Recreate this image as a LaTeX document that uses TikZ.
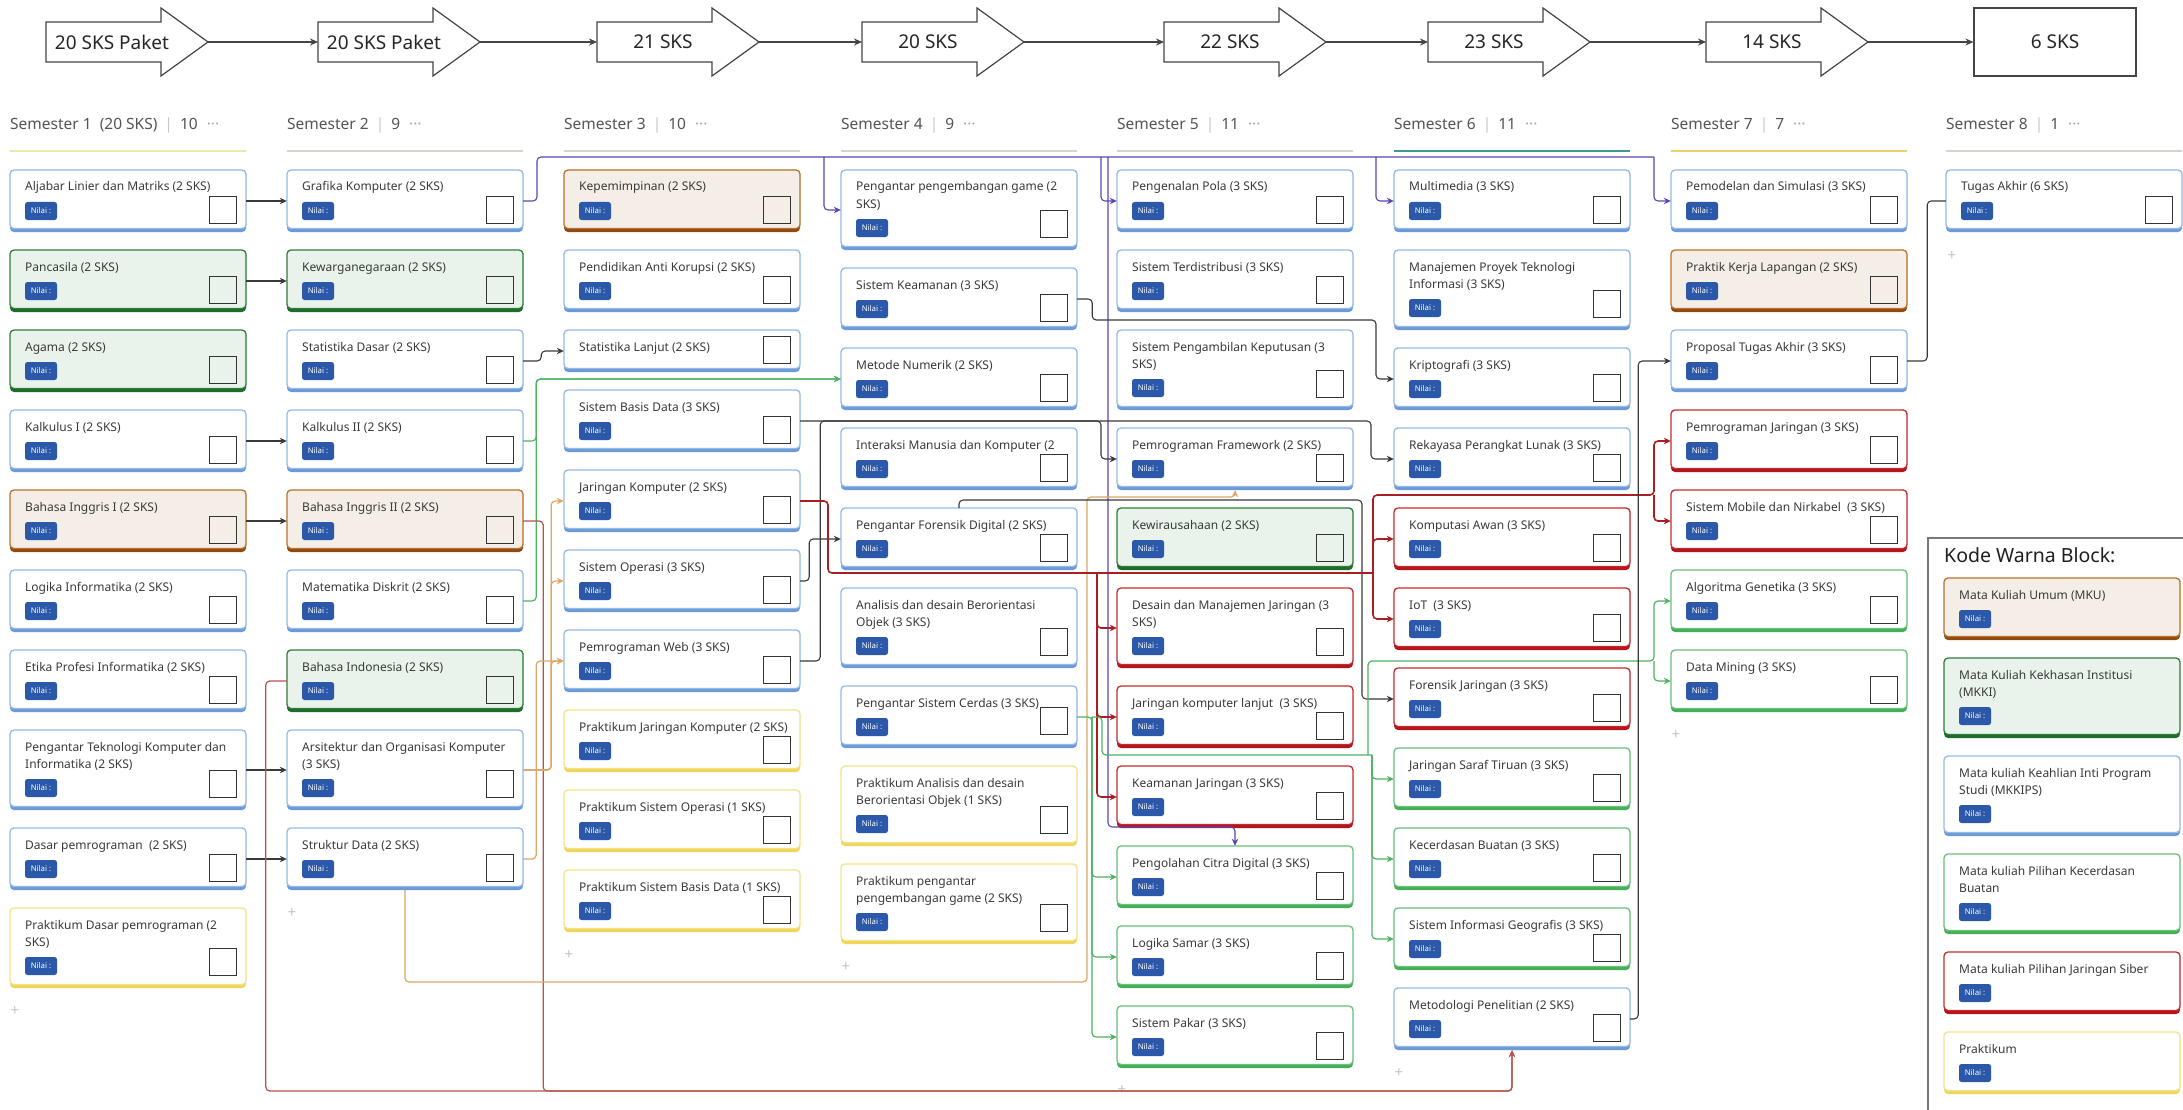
\documentclass[tikz,border=0pt]{standalone}
\usepackage{fontspec}
\setmainfont{Noto Sans}
\usetikzlibrary{arrows.meta}

\definecolor{blufill}{HTML}{FFFFFF}\definecolor{bluedge}{HTML}{95BAE8}\definecolor{blubot}{HTML}{6A9AD9}
\definecolor{kkifill}{HTML}{E9F3EB}\definecolor{kkiedge}{HTML}{2F7D3A}\definecolor{kkibot}{HTML}{1F6B2C}
\definecolor{mkufill}{HTML}{F5EEE7}\definecolor{mkuedge}{HTML}{B8732F}\definecolor{mkubot}{HTML}{8E4A12}
\definecolor{redfill}{HTML}{FFFFFF}\definecolor{rededge}{HTML}{C62A2F}\definecolor{redbot}{HTML}{B3151B}
\definecolor{aifill}{HTML}{FFFFFF}\definecolor{aiedge}{HTML}{6BC07A}\definecolor{aibot}{HTML}{45AE57}
\definecolor{prkfill}{HTML}{FFFFFF}\definecolor{prkedge}{HTML}{F2E38C}\definecolor{prkbot}{HTML}{EFD65A}
\definecolor{badgec}{HTML}{2B58A8}
\definecolor{titlec}{HTML}{3A3A3A}
\definecolor{semc}{HTML}{555555}
\definecolor{sepc}{HTML}{C8C8C8}
\definecolor{dotc}{HTML}{A8A8A8}
\definecolor{lngray}{HTML}{D5D5D0}
\definecolor{lnyel1}{HTML}{F2E7A6}
\definecolor{lnteal}{HTML}{3E9C8C}
\definecolor{lnyel2}{HTML}{E8D46A}
\definecolor{arrc}{HTML}{444444}
\definecolor{lnblack}{HTML}{3A3A3A}
\definecolor{lnpurp}{HTML}{5D45B0}
\definecolor{lngreen}{HTML}{4DB362}
\definecolor{lnred}{HTML}{A81E22}
\definecolor{lnred2}{HTML}{B4544C}
\definecolor{lntan}{HTML}{DDA765}
\definecolor{plusc}{HTML}{C4C4C4}
\definecolor{legc}{HTML}{777777}
\definecolor{sqc}{HTML}{333333}

\tikzset{
  ttl/.style={anchor=base west, inner sep=0, text=titlec, font=\fontsize{12}{14}\selectfont},
  badge/.style={fill=badgec, rounded corners=2.5pt, minimum width=32pt, minimum height=18pt, inner sep=0, text=white, font=\fontsize{7.8}{8}\selectfont\bfseries},
  sqbox/.style={draw=sqc, line width=1.0pt, minimum size=27pt, inner sep=0},
  cardframe/.style={inner sep=0, minimum width=236pt, draw=none},
  semtxt/.style={anchor=west, inner sep=0, text=semc, font=\fontsize{15.5}{18}\selectfont},
  arrowsh/.style={draw=arrc, line width=1.2pt, fill=white, line join=miter},
  arrtxt/.style={inner sep=0, text=black!85, font=\fontsize{19}{21}\selectfont},
  chain/.style={draw=arrc, line width=1.2pt, -{Stealth[length=8pt,width=7pt]}},
  plus/.style={inner sep=0, text=plusc, font=\fontsize{15}{15}\selectfont},
  tipA/.style={-{Stealth[length=7pt,width=6.5pt]}},
  cblackn/.style={draw=lnblack, line width=1.1pt, rounded corners=4pt},
  cblack/.style={cblackn, tipA},
  cpurpn/.style={draw=lnpurp, line width=1.1pt, rounded corners=4pt},
  cpurp/.style={cpurpn, tipA},
  cgreenn/.style={draw=lngreen, line width=1.2pt, rounded corners=4pt},
  cgreen/.style={cgreenn, tipA},
  credn/.style={draw=lnred, line width=1.6pt, rounded corners=4pt},
  cred/.style={credn, tipA},
  cred2/.style={draw=lnred2, line width=1.2pt, rounded corners=4pt, tipA},
  ctan/.style={draw=lntan, line width=1.2pt, rounded corners=4pt, tipA},
}

% single-line card: [square y] name x y type title
\newcommand{\cardone}[6][40]{%
  \begin{scope}[shift={(#3,#4)}]
    \fill[#5bot, rounded corners=4pt] (0,0) rectangle (236,62);
    \filldraw[fill=#5fill, draw=#5edge, line width=1.3pt, rounded corners=4pt] (0,0) rectangle (236,58.5);
    \node[ttl] (#2-t) at (15,21) {#6};
    \node[badge] (#2-b) at (31,41) {Nilai :};
    \ifnum#1>0 \node[sqbox, fill=#5fill] (#2-s) at (212.5,#1) {};\fi
  \end{scope}
  \node[cardframe, minimum height=62pt] (#2) at (#3+118,#4+31) {};
}
% two-line card
\newcommand{\cardtwo}[7][54]{%
  \begin{scope}[shift={(#3,#4)}]
    \fill[#5bot, rounded corners=4pt] (0,0) rectangle (236,80);
    \filldraw[fill=#5fill, draw=#5edge, line width=1.3pt, rounded corners=4pt] (0,0) rectangle (236,76.5);
    \node[ttl] (#2-t) at (15,21) {#6};
    \node[ttl] (#2-u) at (15,38) {#7};
    \node[badge] (#2-b) at (31,58) {Nilai :};
    \ifnum#1>0 \node[sqbox, fill=#5fill] (#2-s) at (212.5,#1) {};\fi
  \end{scope}
  \node[cardframe, minimum height=80pt] (#2) at (#3+118,#4+40) {};
}
% short card without badge
\newcommand{\cardshort}[5]{%
  \begin{scope}[shift={(#2,#3)}]
    \fill[#4bot, rounded corners=4pt] (0,0) rectangle (236,42);
    \filldraw[fill=#4fill, draw=#4edge, line width=1.3pt, rounded corners=4pt] (0,0) rectangle (236,38.5);
    \node[ttl] (#1-t) at (15,21) {#5};
    \node[sqbox, fill=#4fill] (#1-s) at (212.5,19.5) {};
  \end{scope}
  \node[cardframe, minimum height=42pt] (#1) at (#2+118,#3+21) {};
}
\newcommand{\semhead}[5]{%
  \node[semtxt] (#1) at (#2,125) {#3\hspace{7pt}\textcolor{sepc}{|}\hspace{7pt}#4\hspace{9pt}\textcolor{dotc}{···}};
  \draw[line width=2pt, #5] (#2,151) -- (#2+236,151);
}
\newcommand{\bigarrow}[3]{%
  \draw[arrowsh] (#2,22) -- (#2+115,22) -- (#2+115,8) -- (#2+162,42) -- (#2+115,76) -- (#2+115,62) -- (#2,62) -- cycle;
  \node[inner sep=0, minimum width=115pt, minimum height=40pt, anchor=west] (#1) at (#2,42) {};
  \node[arrtxt] (#1-l) at (#2+66,42) {#3};
  \coordinate (#1-tip) at (#2+162,42);
}

\begin{document}
\begin{tikzpicture}[x=1pt,y=-1pt]
\useasboundingbox (0,0) rectangle (2183,1110);
\fill[white] (0,0) rectangle (2183,1110);

% ---------- top arrows ----------
\bigarrow{a1}{46}{20 SKS Paket}
\bigarrow{a2}{318}{20 SKS Paket}
\bigarrow{a3}{597}{21 SKS}
\bigarrow{a4}{862}{20 SKS}
\bigarrow{a5}{1164}{22 SKS}
\bigarrow{a6}{1428}{23 SKS}
\bigarrow{a7}{1706}{14 SKS}
\node[draw=arrc, line width=1.2pt, fill=white, minimum width=162pt, minimum height=68pt, inner sep=0, text=black!85, font=\fontsize{19}{21}\selectfont] (a8) at (2055,42) {6 SKS};
\draw[chain] (a1-tip) -- (a2);
\draw[chain] (a2-tip) -- (a3);
\draw[chain] (a3-tip) -- (a4);
\draw[chain] (a4-tip) -- (a5);
\draw[chain] (a5-tip) -- (a6);
\draw[chain] (a6-tip) -- (a7);
\draw[chain] (a7-tip) -- (a8);

% ---------- semester headers ----------
\semhead{s1}{10}{Semester 1~ (20 SKS)}{10}{lnyel1}
\semhead{s2}{287}{Semester 2}{9}{lngray}
\semhead{s3}{564}{Semester 3}{10}{lngray}
\semhead{s4}{841}{Semester 4}{9}{lngray}
\semhead{s5}{1117}{Semester 5}{11}{lngray}
\semhead{s6}{1394}{Semester 6}{11}{lnteal}
\semhead{s7}{1671}{Semester 7}{7}{lnyel2}
\semhead{s8}{1946}{Semester 8}{1}{lngray}

% ---------- column 1 ----------
\cardone{c1a}{10}{170}{blu}{Aljabar Linier dan Matriks (2 SKS)}
\cardone{c1b}{10}{250}{kki}{Pancasila (2 SKS)}
\cardone{c1c}{10}{330}{kki}{Agama (2 SKS)}
\cardone{c1d}{10}{410}{blu}{Kalkulus I (2 SKS)}
\cardone{c1e}{10}{490}{mku}{Bahasa Inggris I (2 SKS)}
\cardone{c1f}{10}{570}{blu}{Logika Informatika (2 SKS)}
\cardone{c1g}{10}{650}{blu}{Etika Profesi Informatika (2 SKS)}
\cardtwo{c1h}{10}{730}{blu}{Pengantar Teknologi Komputer dan}{Informatika (2 SKS)}
\cardone{c1i}{10}{828}{blu}{Dasar pemrograman~ (2 SKS)}
\cardtwo{c1j}{10}{908}{prk}{Praktikum Dasar pemrograman (2}{SKS)}
\node[plus] (p1) at (15,1011) {+};

% ---------- column 2 ----------
\cardone{c2a}{287}{170}{blu}{Grafika Komputer (2 SKS)}
\cardone{c2b}{287}{250}{kki}{Kewarganegaraan (2 SKS)}
\cardone{c2c}{287}{330}{blu}{Statistika Dasar (2 SKS)}
\cardone{c2d}{287}{410}{blu}{Kalkulus II (2 SKS)}
\cardone{c2e}{287}{490}{mku}{Bahasa Inggris II (2 SKS)}
\cardone{c2f}{287}{570}{blu}{Matematika Diskrit (2 SKS)}
\cardone{c2g}{287}{650}{kki}{Bahasa Indonesia (2 SKS)}
\cardtwo{c2h}{287}{730}{blu}{Arsitektur dan Organisasi Komputer}{(3 SKS)}
\cardone{c2i}{287}{828}{blu}{Struktur Data (2 SKS)}
\node[plus] (p2) at (292,913) {+};

% ---------- column 3 ----------
\cardone{c3a}{564}{170}{mku}{Kepemimpinan (2 SKS)}
\cardone{c3b}{564}{250}{blu}{Pendidikan Anti Korupsi (2 SKS)}
\cardshort{c3c}{564}{330}{blu}{Statistika Lanjut (2 SKS)}
\cardone{c3d}{564}{390}{blu}{Sistem Basis Data (3 SKS)}
\cardone{c3e}{564}{470}{blu}{Jaringan Komputer (2 SKS)}
\cardone{c3f}{564}{550}{blu}{Sistem Operasi (3 SKS)}
\cardone{c3g}{564}{630}{blu}{Pemrograman Web (3 SKS)}
\cardone{c3h}{564}{710}{prk}{Praktikum Jaringan Komputer (2 SKS)}
\cardone{c3i}{564}{790}{prk}{Praktikum Sistem Operasi (1 SKS)}
\cardone{c3j}{564}{870}{prk}{Praktikum Sistem Basis Data (1 SKS)}
\node[plus] (p3) at (569,955) {+};

% ---------- column 4 ----------
\cardtwo{c4a}{841}{170}{blu}{Pengantar pengembangan game (2}{SKS)}
\cardone{c4b}{841}{268}{blu}{Sistem Keamanan (3 SKS)}
\cardone{c4c}{841}{348}{blu}{Metode Numerik (2 SKS)}
\cardone{c4d}{841}{428}{blu}{Interaksi Manusia dan Komputer (2}
\cardone{c4e}{841}{508}{blu}{Pengantar Forensik Digital (2 SKS)}
\cardtwo{c4f}{841}{588}{blu}{Analisis dan desain Berorientasi}{Objek (3 SKS)}
\cardone[35]{c4g}{841}{686}{blu}{Pengantar Sistem Cerdas (3 SKS)}
\cardtwo{c4h}{841}{766}{prk}{Praktikum Analisis dan desain}{Berorientasi Objek (1 SKS)}
\cardtwo{c4i}{841}{864}{prk}{Praktikum pengantar}{pengembangan game (2 SKS)}
\node[plus] (p4) at (846,967) {+};

% ---------- column 5 ----------
\cardone{c5a}{1117}{170}{blu}{Pengenalan Pola (3 SKS)}
\cardone{c5b}{1117}{250}{blu}{Sistem Terdistribusi (3 SKS)}
\cardtwo{c5c}{1117}{330}{blu}{Sistem Pengambilan Keputusan (3}{SKS)}
\cardone{c5d}{1117}{428}{blu}{Pemrograman Framework (2 SKS)}
\cardone{c5e}{1117}{508}{kki}{Kewirausahaan (2 SKS)}
\cardtwo{c5f}{1117}{588}{red}{Desain dan Manajemen Jaringan (3}{SKS)}
\cardone{c5g}{1117}{686}{red}{Jaringan komputer lanjut~ (3 SKS)}
\cardone{c5h}{1117}{766}{red}{Keamanan Jaringan (3 SKS)}
\cardone{c5i}{1117}{846}{ai}{Pengolahan Citra Digital (3 SKS)}
\cardone{c5j}{1117}{926}{ai}{Logika Samar (3 SKS)}
\cardone{c5k}{1117}{1006}{ai}{Sistem Pakar (3 SKS)}
\node[plus] (p5) at (1122,1090) {+};

% ---------- column 6 ----------
\cardone{c6a}{1394}{170}{blu}{Multimedia (3 SKS)}
\cardtwo{c6b}{1394}{250}{blu}{Manajemen Proyek Teknologi}{Informasi (3 SKS)}
\cardone{c6c}{1394}{348}{blu}{Kriptografi (3 SKS)}
\cardone{c6d}{1394}{428}{blu}{Rekayasa Perangkat Lunak (3 SKS)}
\cardone{c6e}{1394}{508}{red}{Komputasi Awan (3 SKS)}
\cardone{c6f}{1394}{588}{red}{IoT~ (3 SKS)}
\cardone{c6g}{1394}{668}{red}{Forensik Jaringan (3 SKS)}
\cardone{c6h}{1394}{748}{ai}{Jaringan Saraf Tiruan (3 SKS)}
\cardone{c6i}{1394}{828}{ai}{Kecerdasan Buatan (3 SKS)}
\cardone{c6j}{1394}{908}{ai}{Sistem Informasi Geografis (3 SKS)}
\cardone{c6k}{1394}{988}{blu}{Metodologi Penelitian (2 SKS)}
\node[plus] (p6) at (1399,1073) {+};

% ---------- column 7 ----------
\cardone{c7a}{1671}{170}{blu}{Pemodelan dan Simulasi (3 SKS)}
\cardone{c7b}{1671}{250}{mku}{Praktik Kerja Lapangan (2 SKS)}
\cardone{c7c}{1671}{330}{blu}{Proposal Tugas Akhir (3 SKS)}
\cardone{c7d}{1671}{410}{red}{Pemrograman Jaringan (3 SKS)}
\cardone{c7e}{1671}{490}{red}{Sistem Mobile dan Nirkabel~ (3 SKS)}
\cardone{c7f}{1671}{570}{ai}{Algoritma Genetika (3 SKS)}
\cardone{c7g}{1671}{650}{ai}{Data Mining (3 SKS)}
\node[plus] (p7) at (1676,735) {+};

% ---------- column 8 ----------
\cardone{c8a}{1946}{170}{blu}{Tugas Akhir (6 SKS)}
\node[plus] (p8) at (1952,256) {+};

% ---------- legend ----------
\draw[draw=legc, line width=1.6pt] (1928,1110) -- (1928,538) -- (2183,538);
\node[anchor=west, inner sep=0, text=black!88, font=\fontsize{19.5}{21}\selectfont] (legt) at (1944,555) {Kode Warna Block:};
\cardone[0]{l1}{1944}{578}{mku}{Mata Kuliah Umum (MKU)}
\cardtwo[0]{l2}{1944}{658}{kki}{Mata Kuliah Kekhasan Institusi}{(MKKI)}
\cardtwo[0]{l3}{1944}{756}{blu}{Mata kuliah Keahlian Inti Program}{Studi (MKKIPS)}
\cardtwo[0]{l4}{1944}{854}{ai}{Mata kuliah Pilihan Kecerdasan}{Buatan}
\cardone[0]{l5}{1944}{952}{red}{Mata kuliah Pilihan Jaringan Siber}
\cardone[0]{l6}{1944}{1032}{prk}{Praktikum}

% ---------- connectors ----------
\draw[cblack] (c1a) -- (c2a);
\draw[cblack] (c1b) -- (c2b);
\draw[cblack] (c1d) -- (c2d);
\draw[cblack] (c1e) -- (c2e);
\draw[cblack] (c1h) -- (c2h);
\draw[cblack] (c1i) -- (c2i);

\draw[cblack] (c2c.east) -- ++(18,0) |- (c3c.west);

% purple trunk from Grafika Komputer
\coordinate (pA) at (537,157);
\coordinate (pB) at (824,157);
\coordinate (pC) at (1101,157);
\coordinate (pF) at (1108,157);
\coordinate (pD) at (1376,157);
\coordinate (pE) at (1654,157);
\coordinate (pG) at (1108,827);
\draw[cpurpn] (c2a.east) -| (pA) -- (pE);
\draw[cpurp] (pB) |- (c4a.west);
\draw[cpurp] (pC) |- (c5a.west);
\draw[cpurp] (pD) |- (c6a.west);
\draw[cpurp] (pE) |- (c7a.west);
\draw[cpurp] (pF) -- (pG) -| (c5i.north);

% green to Metode Numerik
\draw[cgreen] (c2d.east) -- ++(13,0) |- (c4c.west);
\draw[cgreen] (c2f.east) -- ++(13,0) |- (c4c.west);

% bottom red route to Metodologi Penelitian
\coordinate (bR) at (1512,1091);
\draw[cred2] (c2e.east) -- ++(20,0) |- (bR) -- (c6k.south);
\draw[cred2] (c2g.west) -- ++(-21,0) |- (bR) -- (c6k.south);

% tan
\draw[ctan] (c2h.east) -- ++(28,0) |- (c3e.west);
\draw[ctan] (c2h.east) -- ++(28,0) |- (c3f.west);
\draw[ctan] (c2h.east) -- ++(28,0) |- (c3g.west);
\draw[ctan] (c2i.east) -- ++(13,0) |- (c3g.west);
\coordinate (tA) at (1087,982);
\coordinate (tB) at (1087,497);
\draw[ctan] (c2i.south) |- (tA) -- (tB) -| (c5d.south);

% black
\draw[cblack] (c3f.east) -- ++(9,0) |- (c4e.west);
\coordinate (sA) at (1101,421);
\coordinate (sB) at (1371,421);
\draw[cblack] (c3d.east) -- (sA) |- (c5d.west);
\draw[cblack] (sA) -- (sB) |- (c6d.west);
\draw[cblackn] (c3g.east) -- ++(20,0) |- (sA);
\coordinate (kA) at (1376,320);
\draw[cblack] (c4b.east) -- ++(15,0) |- (kA) |- (c6c.west);
\coordinate (fA) at (1362,500);
\draw[cblack] (c4e.north) |- (fA) |- (c6g.west);

% red network from Jaringan Komputer
\coordinate (rA) at (828,573);
\coordinate (rC) at (1097,573);
\coordinate (rB) at (1373,573);
\coordinate (rD) at (1373,495);
\coordinate (rE) at (1654,495);
\draw[credn] (c3e.east) -| (rA) -- (rB);
\draw[cred] (rC) |- (c5f.west);
\draw[cred] (rC) |- (c5g.west);
\draw[cred] (rC) |- (c5h.west);
\draw[cred] (rB) |- (c6e.west);
\draw[cred] (rB) |- (c6f.west);
\draw[cred] (rB) -- (rD) -- (rE) |- (c7d.west);
\draw[cred] (rE) |- (c7e.west);

% green from Pengantar Sistem Cerdas
\coordinate (gA) at (1092,717);
\coordinate (gB) at (1102,717);
\coordinate (gB2) at (1102,755);
\coordinate (gC) at (1372,755);
\coordinate (gD) at (1368,755);
\coordinate (gD2) at (1368,661);
\coordinate (gE) at (1654,661);
\draw[cgreen] (c4g.east) -- (gA) |- (c5i.west);
\draw[cgreen] (gA) |- (c5j.west);
\draw[cgreen] (gA) |- (c5k.west);
\draw[cgreenn] (gA) -- (gB) -- (gB2) -- (gC);
\draw[cgreen] (gC) |- (c6h.west);
\draw[cgreen] (gC) |- (c6i.west);
\draw[cgreen] (gC) |- (c6j.west);
\draw[cgreen] (gD) -- (gD2) -- (gE) |- (c7f.west);
\draw[cgreen] (gE) |- (c7g.west);

% final
\draw[cblack] (c6k.east) -- ++(8,0) |- (c7c.west);
\draw[cblackn] (c7c.east) -- ++(20,0) |- (c8a.west);
\end{tikzpicture}
\end{document}
